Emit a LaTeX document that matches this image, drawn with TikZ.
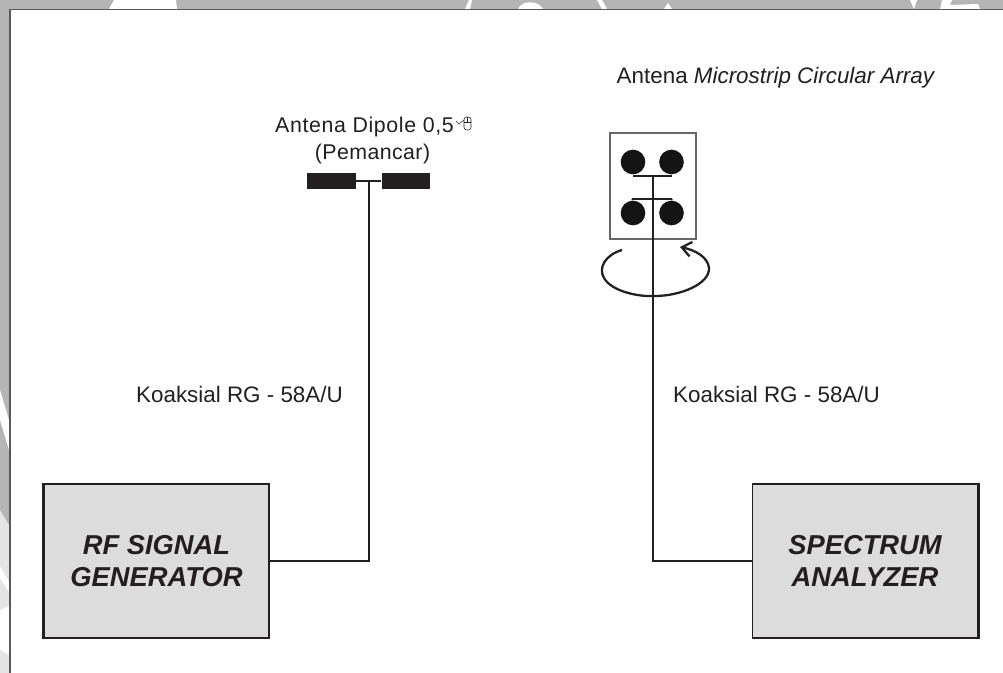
\documentclass[tikz,border=0pt]{standalone}
\usepackage{fontspec}
\setmainfont{Liberation Sans}
\usetikzlibrary{arrows.meta}
\definecolor{inkblack}{HTML}{231F20}
\definecolor{framegray}{HTML}{B5B5B5}
\definecolor{boxgray}{HTML}{DCDCDC}
\definecolor{markgray}{HTML}{E4E4E4}
\tikzset{
    label/.style={text=inkblack,font=\fontsize{16.8}{20}\selectfont,align=center,inner sep=0pt},
    devbox/.style={draw=inkblack,fill=boxgray,line width=1.1pt,minimum width=169pt,minimum height=115.5pt,
        text=inkblack,font=\fontsize{20.5}{24}\selectfont\bfseries\itshape,align=center,inner sep=0pt},
    dipolearm/.style={fill=inkblack,draw=none,minimum width=36.5pt,minimum height=12pt,inner sep=0pt},
    patch/.style={circle,fill=black!92,draw=none,minimum size=18.5pt,inner sep=0pt},
    coax/.style={draw=inkblack,line width=1.1pt},
}
\begin{document}
\begin{tikzpicture}[x=0.75pt,y=-0.75pt]
    \useasboundingbox (0,0) rectangle (1003,673);
    % frame and watermark
    \fill[framegray] (0,0) rectangle (1003,673);
    \fill[white] (109,9) -- (114,0) -- (176,0) -- (177,9) -- cycle;
    \fill[white] (465,9) -- (469,0) -- (472,0) -- (470,9) -- cycle;
    \fill[white] (518,9) .. controls (522,0) and (538,0) .. (543,9) -- cycle;
    \fill[white] (597,0) -- (602,0) -- (607,9) -- (602,9) -- cycle;
    \fill[white] (664,9) -- (668,3) -- (672,9) -- cycle;
    \fill[white] (910,0) -- (917,0) -- (914,9) -- cycle;
    \fill[white] (940,9) -- (942,0) -- (952,0) -- (950,5) -- (978,4) -- (980,9) -- cycle;
    \fill[white] (0,390) -- (9,420) -- (9,450) -- (0,420) -- cycle;
    \fill[markgray] (0,510) -- (9,525) -- (9,673) -- (0,673) -- cycle;
    \fill[white] (0,566) -- (9,582) -- (9,592) -- (0,578) -- cycle;
    \fill[white] (0,610) -- (9,606) -- (9,655) -- (0,650) -- cycle;
    \fill[white] (10,9) rectangle (1003,673);
    \draw[black!65,line width=0.9pt] (10,673) -- (10,9.5) -- (1003,9.5);

    % devices
    \node[devbox] (rfgen) at (156.5,561) {RF SIGNAL\\GENERATOR};
    \node[devbox] (analyzer) at (865,561) {SPECTRUM\\ANALYZER};
    \draw[inkblack,line width=2.4pt] (rfgen.north west) -- (rfgen.south west);
    \draw[inkblack,line width=2.4pt] (analyzer.north east) -- (analyzer.south east);

    % dipole
    \node[dipolearm] (armleft) at (331.5,181) {};
    \node[dipolearm] (armright) at (406,181) {};
    \draw[inkblack,line width=2.2pt] (armleft) -- (armright);
    \coordinate (dipfeed) at (369,181);
    \node[label,font=\fontsize{16}{19}\selectfont\addfontfeature{LetterSpace=3}] (diplabel) at (364.5,127) {Antena Dipole 0,5};
    \node[label,font=\fontsize{16}{19}\selectfont\addfontfeature{LetterSpace=2}] (txlabel) at (372.5,154) {(Pemancar)};
    % mouse mark after the label
    \draw[inkblack,line width=0.4pt] (456,121) -- (459,124) -- (464,120);
    \draw[inkblack,line width=0.4pt,rounded corners=2pt] (464,117) rectangle (471,130);
    \draw[inkblack,line width=0.4pt] (464,122) -- (471,122) (467.5,117) -- (467.5,122);

    % circular array
    \node[draw=black!60,fill=white,line width=0.8pt,minimum width=64.5pt,minimum height=79.5pt,inner sep=0pt] (array) at (653,186) {};
    \node[patch] (patcha) at (633,162) {};
    \node[patch] (patchb) at (671.5,162) {};
    \node[patch] (patchc) at (633,213) {};
    \node[patch] (patchd) at (671.5,213) {};
    \coordinate (feedtop) at (653,176);
    \coordinate (feedlow) at (653,199);
    \draw[inkblack,line width=1.8pt] (633,176) -- (672,176);
    \draw[inkblack,line width=1.1pt] (632,199) -- (672,199);
    \draw[inkblack,line width=0.8pt] (patchc) -- (632,199);
    \draw[inkblack,line width=0.8pt] (patchd) -- (672,199);
    \node[label] (rxlabel) at (776,78) {Antena \textit{Microstrip Circular Array}};

    % cables
    \draw[coax] (rfgen.east) -| (dipfeed);
    \draw[coax] (analyzer.west) -| (feedtop);
    \node[label] (cablea) at (239.5,394) {Koaksial RG - 58A/U};
    \node[label] (cableb) at (776.5,394) {Koaksial RG - 58A/U};

    % rotation
    \coordinate (turnstart) at (622,250);
    \coordinate (turnend) at (680,247);
    \draw[inkblack,line width=1.7pt,-{Straight Barb[length=7pt,width=11pt]}] (turnstart)
        .. controls (605,255) and (598,268) .. (604,278)
        .. controls (612,292) and (640,297) .. (655,296)
        .. controls (680,296) and (710,284) .. (709,268)
        .. controls (708,257) and (695,250) .. (turnend);
\end{tikzpicture}
\end{document}
